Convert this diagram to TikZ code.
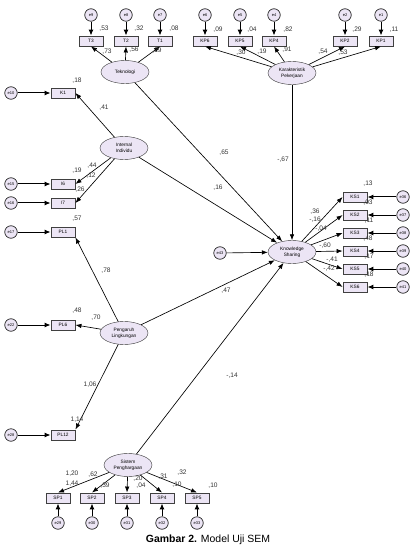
\documentclass[tikz,border=0pt]{standalone}
\usepackage{fontspec}
\setmainfont{Liberation Sans}
\usetikzlibrary{arrows.meta,shapes.geometric}
\definecolor{lav}{RGB}{236,229,245}
\begin{document}
\begin{tikzpicture}[x=1bp, y=-1bp,
    lat/.style={ellipse, draw=black!80, fill=lav, minimum width=48bp, minimum height=23bp, inner sep=0pt, align=center, font=\fontsize{4.8}{5.6}\selectfont},
    obs/.style={rectangle, draw=black!75, line width=0.9bp, fill=lav, minimum width=24bp, minimum height=10bp, inner sep=0pt, font=\fontsize{4.8}{5.5}\selectfont},
    err/.style={circle, draw=black!85, line width=0.7bp, fill=lav, minimum size=12.5bp, inner sep=0pt, font=\fontsize{4}{5}\selectfont},
    arr/.style={-{Latex[length=6bp,width=4.5bp]}, line width=0.65bp},
    earr/.style={-{Latex[length=6bp,width=5bp]}, line width=1bp},
    val/.style={font=\fontsize{6.6}{7}\selectfont, inner sep=0pt, text=black!80}]
\useasboundingbox (0,0) rectangle (412,559);
% latent variables
\node[lat] (tek) at (125,72) {Teknologi};
\node[lat] (kar) at (292,73) {Karakteristik\\Pekerjaan};
\node[lat] (int) at (124,148) {Internal\\Individu};
\node[lat] (ling) at (124,333) {Pengaruh\\Lingkungan};
\node[lat] (sis) at (128,465) {Sistem\\Penghargaan};
\node[lat] (ks) at (292,252) {Knowledge\\Sharing};
\node[err] (e43) at (220,253) {e43};
% indicators with errors
\foreach \n/\t/\e/\x in {t3/T3/e9/91, t2/T2/e8/126, t1/T1/e7/160,
                          kp6/KP6/e6/205, kp5/KP5/e5/240, kp4/KP4/e4/274, kp2/KP2/e2/345, kp1/KP1/e1/381} {
    \node[obs] (\n) at (\x,41) {\t};
    \node[err] (\e) at (\x,15) {\e};
    \draw[earr] (\e) -- (\n);
}
\foreach \n/\t/\e/\y in {k1/K1/e10/93, i6/I6/e15/184, i7/I7/e16/203,
                          pl1/PL1/e17/232, pl6/PL6/e22/325, pl12/PL12/e28/435} {
    \node[obs] (\n) at (63,\y) {\t};
    \node[err] (\e) at (11,\y) {\e};
    \draw[earr] (\e) -- (\n);
}
\foreach \n/\t/\e/\x in {sp1/SP1/e29/58, sp2/SP2/e30/92, sp3/SP3/e31/127, sp4/SP4/e32/162, sp5/SP5/e33/197} {
    \node[obs] (\n) at (\x,498) {\t};
    \node[err] (\e) at (\x,523) {\e};
    \draw[earr] (\e) -- (\n);
}
\foreach \n/\t/\e/\y in {ks1/KS1/e36/197, ks2/KS2/e37/215, ks3/KS3/e38/233,
                          ks4/KS4/e39/251, ks5/KS5/e40/269, ks6/KS6/e41/287} {
    \node[obs] (\n) at (355,\y) {\t};
    \node[err] (\e) at (403,\y) {\e};
    \draw[earr] (\e) -- (\n);
    \draw[arr] (ks) -- (\n.west);
}
% loadings
\foreach \n in {t3,t2,t1} \draw[arr] (tek) -- (\n.south);
\foreach \n in {kp6,kp5,kp4,kp2,kp1} \draw[arr] (kar) -- (\n.south);
\draw[arr] (int) -- (k1.east);
\draw[arr] (int) -- (i6.east);
\draw[arr] (int) -- (i7.east);
\draw[arr] (ling) -- (pl1.south east);
\draw[arr] (ling) -- (pl6.east);
\draw[arr] (ling) -- (pl12.north east);
\foreach \n in {sp1,sp2,sp3,sp4,sp5} \draw[arr] (sis) -- (\n.north);
% structural paths
\draw[arr] (tek) -- (ks);
\draw[arr] (int) -- (ks);
\draw[arr] (kar) -- (ks);
\draw[arr] (ling) -- (ks);
\draw[arr] (sis) -- (ks);
\draw[arr] (e43) -- (ks);
% estimates
\foreach \x/\y/\t [count=\i] in {104/29/{,53}, 139/29/{,32}, 174/29/{,08}, 107/52/{,73}, 134/50/{,56}, 157/51/{,29},
    218/30/{,09}, 252/30/{,04}, 288/30/{,82}, 357/30/{,29}, 394/30/{,11}, 241/53/{,30}, 262/52/{,19}, 287/50/{,91}, 323/52/{,54}, 343/53/{,53},
    77/81/{,18}, 104/108/{,41}, 77/171/{,19}, 92/166/{,44}, 91/176/{,12}, 80/190/{,26}, 77/219/{,57}, 106/271/{,78},
    77/311/{,48}, 96/318/{,70}, 90/385/{1,06}, 77/420/{1,14},
    224/153/{,65}, 218/188/{,16}, 283/160/{-,67}, 226/291/{,47}, 232/376/{-,14},
    368/184/{,13}, 368/203/{,03}, 369/221/{,11}, 368/239/{,48}, 369/257/{,17}, 369/275/{,18},
    315/212/{,36}, 315/220/{-,16}, 321/229/{-,04}, 325/246/{-,60}, 332/260/{-,41}, 329/269/{-,42},
    72/474/{1,20}, 72/484/{1,44}, 93/475/{,62}, 105/486/{,39}, 138/479/{,20}, 141/486/{,04},
    163/477/{,31}, 177/485/{,10}, 182/473/{,32}, 213/486/{,10}}
    \node[val] (v\i) at (\x,\y) {\t};
% caption
\node[font=\fontsize{10.5}{12}\selectfont] (cap) at (208,540) {\textbf{Gambar 2.} Model Uji SEM};
\end{tikzpicture}
\end{document}
